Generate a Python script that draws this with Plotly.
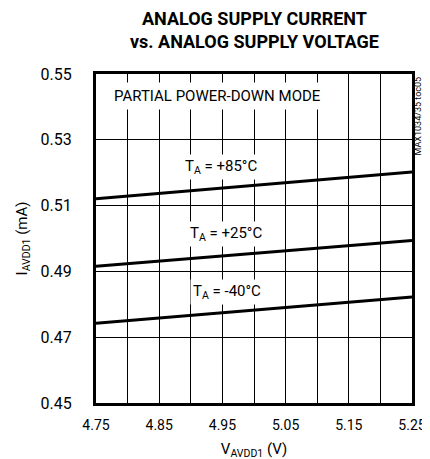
import plotly.graph_objects as go

voltage = [4.75, 5.00, 5.25]
i_85 = [0.5121, 0.5162, 0.5202]
i_25 = [0.4916, 0.4955, 0.4994]
i_m40 = [0.4742, 0.4782, 0.4822]

x_ticks = [4.75, 4.85, 4.95, 5.05, 5.15, 5.25]
y_ticks = [0.45, 0.47, 0.49, 0.51, 0.53, 0.55]

FONT = "Liberation Sans Narrow, Arial Narrow, Roboto, sans-serif"

fig = go.Figure()
for ys in (i_85, i_25, i_m40):
    fig.add_trace(go.Scatter(x=voltage, y=ys, mode="lines",
                             line=dict(color="black", width=3), showlegend=False))

labels = [
    (4.948, 0.5177, "T<sub>A</sub> = +85°C"),
    (4.955, 0.4973, "T<sub>A</sub> = +25°C"),
    (4.957, 0.4797, "T<sub>A</sub> = -40°C"),
]
for x, y, t in labels:
    fig.add_annotation(x=x, y=y, text=t, showarrow=False, yanchor="bottom",
                       font=dict(family=FONT, size=15, color="black"),
                       bgcolor="white", borderpad=2)

fig.add_annotation(x=4.77, y=0.5433, xanchor="left", yanchor="middle",
                   text="PARTIAL POWER-DOWN MODE", showarrow=False,
                   font=dict(family=FONT, size=15, color="black"),
                   bgcolor="white", borderpad=4)

fig.add_annotation(xref="paper", yref="paper", x=1.018, y=0.873, xanchor="center", yanchor="middle",
                   text="MAX1034/35 toc05", textangle=-90, showarrow=False,
                   font=dict(family=FONT, size=9, color="black"))

fig.add_annotation(xref="paper", yref="paper", x=0.5, y=1.0, xanchor="center", yanchor="bottom",
                   yshift=20,
                   text="<b>ANALOG SUPPLY CURRENT<br>vs. ANALOG SUPPLY VOLTAGE</b>",
                   showarrow=False,
                   font=dict(family=FONT, size=18, color="black"))

fig.update_layout(
    width=430, height=459,
    margin=dict(l=86, r=15, t=66, b=64),
    paper_bgcolor="white", plot_bgcolor="white",
    font=dict(family=FONT, size=15, color="black"),
)
fig.update_xaxes(range=[4.75, 5.25], tickvals=x_ticks,
                 ticktext=[f"{v:.2f}" for v in x_ticks],
                 showgrid=False, zeroline=False,
                 minor=dict(tick0=4.75, dtick=0.05, showgrid=True, gridcolor="black", gridwidth=1),
                 showline=True, mirror=True, linecolor="black", linewidth=3,
                 ticks="", ticklen=0, ticklabelstandoff=7,
                 title=dict(text="V<sub>AVDD1</sub> (V)", font=dict(family=FONT, size=15), standoff=12),
                 tickfont=dict(family=FONT, size=14))
fig.update_yaxes(range=[0.45, 0.55], tickvals=y_ticks,
                 ticktext=[f"{v:.2f}" for v in y_ticks],
                 showgrid=True, gridcolor="black", gridwidth=1, zeroline=False,
                 showline=True, mirror=True, linecolor="black", linewidth=3,
                 ticks="", ticklen=0, ticklabelstandoff=18,
                 title=dict(text="I<sub>AVDD1</sub> (mA)", font=dict(family=FONT, size=15), standoff=10),
                 tickfont=dict(family=FONT, size=16))

fig.write_html("out.html")
